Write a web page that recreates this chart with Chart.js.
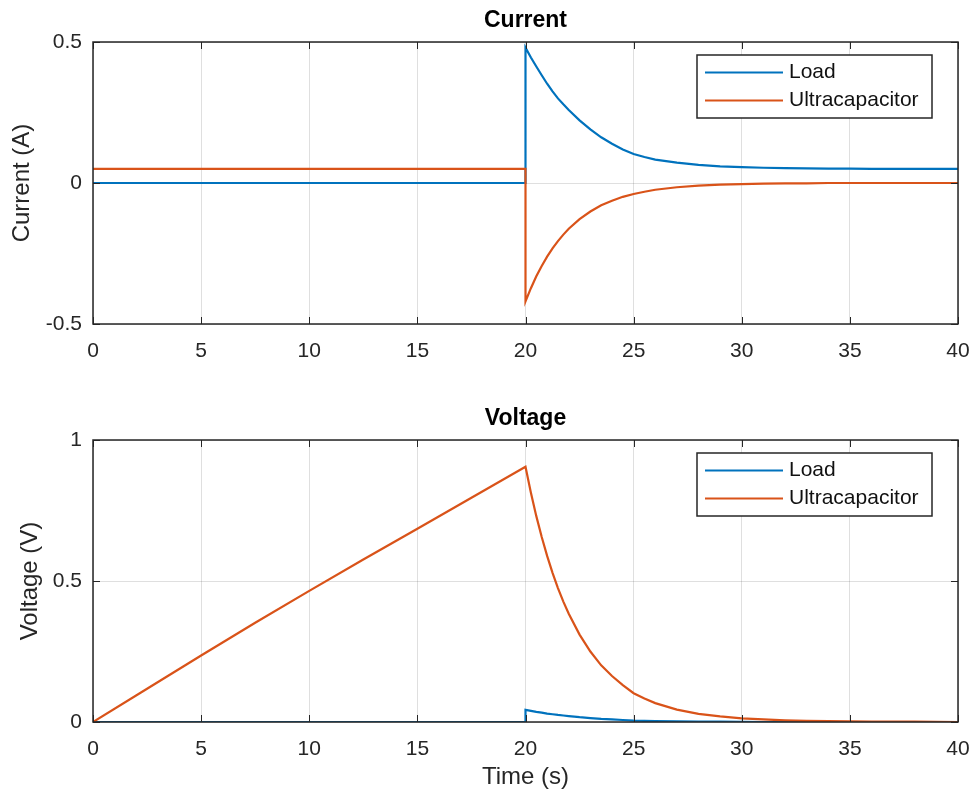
<!DOCTYPE html>
<html>
<head>
<meta charset="utf-8">
<script src="https://cdn.jsdelivr.net/npm/chart.js@4.4.1/dist/chart.umd.min.js"></script>
<style>
  html, body { margin: 0; padding: 0; background: #fff; }
  #wrap { position: relative; width: 978px; height: 804px; }
  canvas { position: absolute; left: 0; }
  #current { top: 0; }
  #voltage { top: 380px; }
</style>
</head>
<body>
<div id="wrap">
  <canvas id="current" width="978" height="380"></canvas>
  <canvas id="voltage" width="978" height="424"></canvas>
</div>
<script>
// time (s), 20 appears twice for the step
const time = [0, 2.5, 5, 7.5, 10, 12.5, 15, 17.5, 20,
  20, 20.25, 20.5, 20.75, 21, 21.25, 21.5, 21.75, 22,
  22.5, 23, 23.5, 24, 24.5, 25, 25.5, 26,
  27, 28, 29, 30, 31, 32, 33, 34, 35, 36, 38, 40]

const loadCurrent = [0, 0, 0, 0, 0, 0, 0, 0, 0,
  0.480, 0.445, 0.413, 0.382, 0.352, 0.325, 0.300, 0.279, 0.259,
  0.222, 0.190, 0.162, 0.139, 0.119, 0.103, 0.092, 0.083,
  0.072, 0.064, 0.059, 0.056, 0.054, 0.053, 0.052, 0.051, 0.051, 0.050, 0.050, 0.050]

const ucapCurrent = [0.05, 0.05, 0.05, 0.05, 0.05, 0.05, 0.05, 0.05, 0.05,
  -0.420, -0.373, -0.331, -0.294, -0.261, -0.232, -0.206, -0.183, -0.162,
  -0.128, -0.101, -0.079, -0.063, -0.049, -0.039, -0.031, -0.024,
  -0.015, -0.009, -0.006, -0.004, -0.002, -0.001, -0.001, 0, 0, 0, 0, 0]

const loadVoltage = [0, 0, 0, 0, 0, 0, 0, 0, 0,
  0.043, 0.0395, 0.036, 0.033, 0.030, 0.0275, 0.025, 0.023, 0.021,
  0.017, 0.014, 0.011, 0.009, 0.007, 0.005, 0.004, 0.003,
  0.002, 0.0014, 0.001, 0.0006, 0, 0, 0, 0, 0, 0, 0, 0]

const ucapVoltage = [0, 0.118, 0.236, 0.352, 0.465, 0.576, 0.685, 0.795, 0.905,
  0.905, 0.813, 0.730, 0.656, 0.589, 0.529, 0.475, 0.427, 0.384,
  0.310, 0.250, 0.201, 0.163, 0.131, 0.102, 0.083, 0.067,
  0.044, 0.029, 0.020, 0.013, 0.009, 0.006, 0.004, 0.003, 0.002, 0.001, 0.001, 0]

const seriesNames = ['Load', 'Ultracapacitor']
const timeTicks = [0, 5, 10, 15, 20, 25, 30, 35, 40]
const currentTicks = [-0.5, 0, 0.5]
const voltageTicks = [0, 0.5, 1]

const BLUE = '#0072BD'
const ORANGE = '#D95319'
const AXIS = '#262626'
const GRID = 'rgba(38,38,38,0.15)'
const FONT = '"Liberation Sans", Arial, Helvetica, sans-serif'

const pts = (ys) => time.map((t, i) => ({ x: t, y: ys[i] }))

// matlab-ish box, inward ticks, title and legend inside the axes
const matlabAxes = {
  id: 'matlabAxes',
  afterDatasetsDraw(chart, args, opts) {
    const { ctx, chartArea: a, scales: { x, y } } = chart
    ctx.save()
    ctx.strokeStyle = AXIS
    ctx.lineWidth = 1
    const seg = (x1, y1, x2, y2) => {
      ctx.beginPath(); ctx.moveTo(x1, y1); ctx.lineTo(x2, y2); ctx.stroke()
    }
    x.ticks.forEach(t => {
      const px = Math.round(x.getPixelForValue(t.value)) + 0.5
      seg(px, a.bottom, px, a.bottom - 7)
      seg(px, a.top, px, a.top + 7)
    })
    y.ticks.forEach(t => {
      const py = Math.round(y.getPixelForValue(t.value)) + 0.5
      seg(a.left, py, a.left + 7, py)
      seg(a.right, py, a.right - 7, py)
    })
    ctx.lineWidth = 1.5
    ctx.strokeRect(a.left, a.top, a.right - a.left, a.bottom - a.top)

    // title
    ctx.fillStyle = '#000'
    ctx.font = 'bold 23px ' + FONT
    ctx.textAlign = 'center'
    ctx.textBaseline = 'middle'
    ctx.fillText(opts.title, (a.left + a.right) / 2, a.top - 21)

    // legend
    const bw = 235, bh = 63
    const bx = a.right - 26 - bw, by = a.top + 13
    ctx.fillStyle = '#fff'
    ctx.fillRect(bx, by, bw, bh)
    ctx.lineWidth = 1.5
    ctx.strokeStyle = AXIS
    ctx.strokeRect(bx, by, bw, bh)
    ctx.font = '21px ' + FONT
    ctx.textAlign = 'left'
    chart.data.datasets.forEach((ds, i) => {
      const ry = by + 17.5 + i * 28
      ctx.strokeStyle = ds.borderColor
      ctx.lineWidth = 2
      seg(bx + 8, ry, bx + 86, ry)
      ctx.fillStyle = '#111'
      ctx.fillText(ds.label, bx + 92, ry)
    })
    ctx.restore()
  }
}

function makeChart(id, cfg) {
  const ctx = document.getElementById(id).getContext('2d')
  return new Chart(ctx, {
    type: 'line',
    data: {
      datasets: [
        { label: seriesNames[0], data: pts(cfg.load), borderColor: BLUE, order: 1 },
        { label: seriesNames[1], data: pts(cfg.ucap), borderColor: ORANGE, order: 0 }
      ]
    },
    options: {
      responsive: false,
      animation: false,
      devicePixelRatio: 1,
      layout: { padding: { top: cfg.top, right: 20, bottom: 0, left: 0 } },
      elements: {
        point: { radius: 0 },
        line: { borderWidth: 2.2, tension: 0, fill: false }
      },
      scales: {
        x: {
          type: 'linear',
          min: 0,
          max: 40,
          afterBuildTicks: (s) => { s.ticks = timeTicks.map(v => ({ value: v })) },
          afterFit: (s) => { s.height = cfg.xHeight; s.paddingLeft = 0; s.paddingRight = 0 },
          grid: { color: GRID, drawTicks: false },
          border: { display: false },
          ticks: { color: AXIS, padding: 15, maxRotation: 0, font: { family: FONT, size: 21 } },
          title: {
            display: !!cfg.xTitle,
            text: cfg.xTitle,
            color: AXIS,
            padding: { top: 0, bottom: 12 },
            font: { family: FONT, size: 24 }
          }
        },
        y: {
          type: 'linear',
          min: cfg.yTicks[0],
          max: cfg.yTicks[cfg.yTicks.length - 1],
          afterBuildTicks: (s) => { s.ticks = cfg.yTicks.map(v => ({ value: v })) },
          afterFit: (s) => { s.width = 93; s.paddingTop = 0; s.paddingBottom = 0 },
          grid: { color: GRID, drawTicks: false },
          border: { display: false },
          ticks: { color: AXIS, padding: 11, font: { family: FONT, size: 21 }, callback: (v) => String(v) },
          title: {
            display: true,
            text: cfg.yTitle,
            color: AXIS,
            padding: { top: cfg.yTitlePad, bottom: 0 },
            font: { family: FONT, size: 24 }
          }
        }
      },
      plugins: {
        legend: { display: false },
        tooltip: { enabled: false },
        matlabAxes: { title: cfg.title }
      }
    },
    plugins: [matlabAxes]
  })
}

makeChart('current', {
  title: 'Current',
  load: loadCurrent,
  ucap: ucapCurrent,
  yTicks: currentTicks,
  yTitle: 'Current (A)',
  yTitlePad: 8,
  top: 42,
  xHeight: 56
})

makeChart('voltage', {
  title: 'Voltage',
  load: loadVoltage,
  ucap: ucapVoltage,
  yTicks: voltageTicks,
  yTitle: 'Voltage (V)',
  yTitlePad: 16,
  xTitle: 'Time (s)',
  top: 60,
  xHeight: 82
})
</script>
</body>
</html>
